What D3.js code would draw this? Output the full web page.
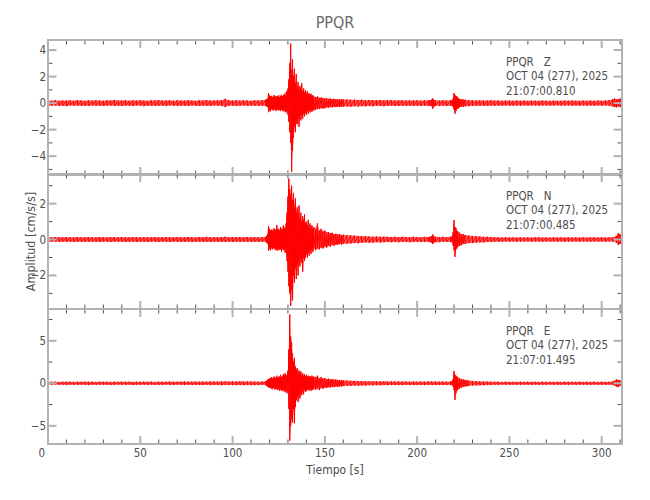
<!DOCTYPE html>
<html>
<head>
<meta charset="utf-8">
<script src="https://cdn.jsdelivr.net/npm/d3@7"></script>
<style>
	body { margin: 0; background: #fff; }
	svg text { font-family: "DejaVu Sans Condensed", "DejaVu Sans", sans-serif; }
</style>
</head>
<body>
<div id="chart"></div>
<script>
// Station PPQR, 3 components, acceleration envelopes
// each entry: [time s, upper, lower] in cm/s/s

const traceZ = [
	[0,0.2,-0.22],[2,0.18,-0.2],[4,0.22,-0.18],[6,0.17,-0.21],[8,0.2,-0.19],[10,0.19,-0.23],[12,0.21,-0.18],[14,0.18,-0.2],
	[16,0.23,-0.19],[18,0.2,-0.21],[20,0.17,-0.2],[22,0.21,-0.22],[24,0.19,-0.18],[26,0.22,-0.2],[28,0.2,-0.19],[30,0.18,-0.22],
	[32,0.21,-0.2],[34,0.2,-0.18],[36,0.24,-0.21],[38,0.19,-0.2],[40,0.2,-0.22],[42,0.22,-0.19],[44,0.18,-0.2],[46,0.21,-0.21],
	[48,0.19,-0.18],[50,0.22,-0.2],[52,0.2,-0.23],[54,0.18,-0.19],[56,0.21,-0.2],[58,0.2,-0.21],[60,0.23,-0.19],[62,0.19,-0.2],
	[64,0.2,-0.22],[66,0.22,-0.18],[68,0.18,-0.2],[70,0.21,-0.21],[72,0.2,-0.19],[74,0.19,-0.2],[76,0.22,-0.22],[78,0.2,-0.18],
	[80,0.18,-0.2],[82,0.21,-0.21],[84,0.2,-0.19],[86,0.23,-0.2],[88,0.19,-0.22],[90,0.2,-0.18],[92,0.22,-0.2],[94,0.21,-0.21],
	[96,0.32,-0.3],[98,0.22,-0.2],[100,0.2,-0.19],[102,0.21,-0.22],[104,0.19,-0.2],[106,0.22,-0.18],[108,0.2,-0.21],[110,0.18,-0.2],
	[112,0.21,-0.19],[114,0.2,-0.22],[116,0.22,-0.2],
	[118,0.25,-0.22],[118.5,0.3,-0.25],[119,0.35,-0.3],[119.5,0.76,-0.68],[120,0.6,-0.55],[120.5,0.5,-0.62],[121,0.55,-0.45],
	[121.5,0.45,-0.5],[122,0.5,-0.55],[122.5,0.6,-0.4],[123,0.42,-0.5],[123.5,0.55,-0.6],[124,0.48,-0.45],[124.5,0.5,-0.52],
	[125,0.6,-0.55],[125.5,0.45,-0.5],[126,0.55,-0.6],[126.5,0.62,-0.48],[127,0.5,-0.55],[127.5,0.58,-0.62],[128,0.7,-0.5],
	[128.5,0.55,-0.65],[129,0.8,-0.7],[129.5,0.9,-0.6],[130,1.1,-0.9],[130.5,1.8,-1.4],[131,3.0,-2.2],[131.5,4.5,-3.0],
	[132,2.5,-5.2],[132.5,3.3,-3.6],[133,2.0,-2.6],[133.5,2.6,-1.8],[134,1.5,-2.2],[134.5,2.2,-1.5],[135,1.2,-1.6],
	[135.5,1.6,-1.2],[136,1.0,-1.8],[136.5,1.3,-1.0],[137,1.1,-1.3],[137.5,1.5,-0.9],[138,0.9,-1.2],[138.5,1.1,-0.8],
	[139,0.8,-1.0],[139.5,1.0,-0.7],[140,0.7,-0.9],[140.5,0.9,-0.6],[141,0.65,-0.8],[141.5,0.75,-0.55],[142,0.6,-0.7],
	[142.5,0.7,-0.5],[143,0.55,-0.65],[143.5,0.6,-0.5],[144,0.5,-0.55],[145,0.45,-0.5],[146,0.5,-0.42],[147,0.4,-0.45],
	[148,0.42,-0.38],[149,0.38,-0.4],[150,0.35,-0.38],[151,0.38,-0.32],[152,0.32,-0.35],[153,0.35,-0.3],[154,0.3,-0.32],
	[155,0.32,-0.28],[156,0.28,-0.3],[157,0.3,-0.27],[158,0.27,-0.3],[159,0.3,-0.26],[160,0.28,-0.28],
	[162,0.27,-0.25],[164,0.25,-0.27],[166,0.26,-0.24],[168,0.24,-0.25],[170,0.25,-0.23],[172,0.22,-0.24],[174,0.24,-0.22],
	[176,0.23,-0.24],[178,0.22,-0.2],[180,0.24,-0.22],[182,0.21,-0.23],[184,0.22,-0.21],[186,0.23,-0.2],[188,0.2,-0.22],
	[190,0.22,-0.21],[192,0.21,-0.2],[194,0.2,-0.22],[196,0.22,-0.19],[198,0.2,-0.21],[200,0.21,-0.2],[202,0.19,-0.21],
	[204,0.21,-0.2],[206,0.2,-0.22],[207,0.22,-0.2],[208,0.28,-0.25],[208.5,0.35,-0.42],[209,0.25,-0.28],[210,0.21,-0.2],
	[212,0.2,-0.21],[214,0.22,-0.2],[216,0.2,-0.21],[218,0.21,-0.2],[219,0.22,-0.22],[219.5,0.35,-0.3],[220,0.76,-0.5],
	[220.5,0.6,-0.8],[221,0.55,-0.6],[221.5,0.5,-0.45],[222,0.42,-0.4],[222.5,0.35,-0.38],[223,0.32,-0.3],[224,0.3,-0.28],
	[225,0.27,-0.28],[226,0.25,-0.24],[228,0.22,-0.23],[230,0.21,-0.2],[232,0.2,-0.21],[234,0.21,-0.19],[236,0.19,-0.2],
	[238,0.2,-0.21],[240,0.21,-0.19],[242,0.19,-0.2],[244,0.2,-0.2],[246,0.18,-0.19],[248,0.2,-0.18],[250,0.19,-0.2],
	[252,0.18,-0.19],[254,0.2,-0.18],[256,0.18,-0.2],[258,0.19,-0.18],[260,0.17,-0.19],[262,0.19,-0.17],[264,0.18,-0.18],
	[266,0.17,-0.19],[268,0.19,-0.17],[270,0.18,-0.18],[272,0.17,-0.19],[274,0.19,-0.18],[276,0.18,-0.17],[278,0.17,-0.19],
	[280,0.19,-0.18],[282,0.18,-0.17],[284,0.2,-0.19],[286,0.18,-0.18],[288,0.17,-0.19],[290,0.19,-0.17],[292,0.18,-0.19],
	[294,0.2,-0.18],[296,0.18,-0.2],[298,0.19,-0.18],[300,0.18,-0.19],[302,0.2,-0.18],[304,0.22,-0.2],[306,0.3,-0.25],
	[307,0.35,-0.3],[308,0.28,-0.32],[309,0.3,-0.25],[310,0.35,-0.3],[311,0.3,-0.28]
];

const traceN = [
	[0,0.13,-0.14],[2,0.12,-0.13],[4,0.14,-0.12],[6,0.13,-0.14],[8,0.12,-0.13],[10,0.14,-0.13],[12,0.13,-0.12],[14,0.12,-0.14],
	[16,0.14,-0.13],[18,0.13,-0.12],[20,0.12,-0.14],[22,0.14,-0.13],[24,0.13,-0.12],[26,0.12,-0.13],[28,0.14,-0.14],[30,0.13,-0.12],
	[32,0.12,-0.13],[34,0.14,-0.14],[36,0.13,-0.12],[38,0.12,-0.13],[40,0.14,-0.13],[42,0.13,-0.14],[44,0.12,-0.12],[46,0.14,-0.13],
	[48,0.13,-0.14],[50,0.12,-0.12],[52,0.14,-0.13],[54,0.13,-0.14],[56,0.12,-0.12],[58,0.14,-0.13],[60,0.13,-0.14],[62,0.12,-0.12],
	[64,0.14,-0.13],[66,0.13,-0.14],[68,0.12,-0.12],[70,0.14,-0.13],[72,0.13,-0.14],[74,0.12,-0.13],[76,0.14,-0.12],[78,0.13,-0.14],
	[80,0.12,-0.13],[82,0.14,-0.12],[84,0.13,-0.14],[86,0.15,-0.13],[88,0.13,-0.14],[90,0.14,-0.12],[92,0.13,-0.14],[94,0.14,-0.13],
	[96,0.15,-0.14],[98,0.13,-0.13],[100,0.14,-0.14],[102,0.13,-0.12],[104,0.14,-0.14],[106,0.13,-0.13],[108,0.14,-0.12],[110,0.13,-0.14],
	[112,0.14,-0.13],[114,0.13,-0.14],[116,0.14,-0.13],
	[118,0.15,-0.14],[118.5,0.2,-0.18],[119,0.3,-0.25],[119.5,0.76,-0.63],[120,0.6,-0.5],[120.5,0.5,-0.6],[121,0.55,-0.45],
	[121.5,0.48,-0.55],[122,0.55,-0.5],[122.5,0.62,-0.45],[123,0.5,-0.55],[123.5,0.58,-0.6],[124,0.8,-0.5],[124.5,0.55,-0.62],
	[125,0.6,-0.5],[125.5,0.5,-0.58],[126,0.7,-0.55],[126.5,0.6,-0.7],[127,0.55,-0.5],[127.5,0.8,-0.6],[128,0.6,-0.55],
	[128.5,0.7,-0.75],[129,0.9,-0.7],[129.5,1.5,-1.2],[130,2.4,-1.8],[130.5,3.4,-2.6],[131,2.8,-3.0],[131.5,2.5,-3.7],
	[132,3.0,-2.8],[132.5,2.2,-3.4],[133,2.6,-2.0],[133.5,1.8,-2.4],[134,2.3,-1.6],[134.5,1.5,-2.2],[135,1.8,-1.4],
	[135.5,1.4,-2.0],[136,1.9,-1.2],[136.5,1.2,-1.5],[137,1.5,-1.1],[137.5,1.0,-1.3],[138,1.3,-1.8],[138.5,1.1,-1.0],
	[139,1.4,-1.2],[139.5,0.9,-1.0],[140,1.0,-0.8],[140.5,0.8,-1.0],[141,1.1,-0.7],[141.5,0.7,-0.9],[142,0.9,-0.6],
	[142.5,0.6,-0.8],[143,0.8,-0.55],[143.5,0.6,-0.7],[144,0.7,-0.5],[145,0.6,-0.6],[146,0.9,-0.5],[147,0.5,-0.55],
	[148,0.6,-0.45],[149,0.45,-0.5],[150,0.5,-0.4],[151,0.4,-0.45],[152,0.42,-0.35],[153,0.35,-0.4],[154,0.38,-0.3],
	[155,0.3,-0.35],[156,0.32,-0.28],[157,0.28,-0.3],[158,0.3,-0.25],[159,0.25,-0.28],[160,0.27,-0.24],
	[162,0.24,-0.23],[164,0.23,-0.22],[166,0.22,-0.2],[168,0.2,-0.21],[170,0.19,-0.18],[172,0.18,-0.17],[174,0.17,-0.18],
	[176,0.16,-0.17],[178,0.17,-0.15],[180,0.15,-0.16],[182,0.16,-0.15],[184,0.15,-0.14],[186,0.14,-0.15],[188,0.15,-0.14],
	[190,0.14,-0.15],[192,0.15,-0.13],[194,0.14,-0.14],[196,0.13,-0.15],[198,0.15,-0.14],[200,0.14,-0.13],[202,0.13,-0.14],
	[204,0.15,-0.14],[206,0.14,-0.13],[207,0.16,-0.15],[208,0.2,-0.18],[208.5,0.28,-0.25],[209,0.2,-0.18],[210,0.15,-0.14],
	[212,0.14,-0.15],[214,0.15,-0.13],[216,0.14,-0.14],[218,0.15,-0.14],[219,0.18,-0.16],[219.5,0.4,-0.35],[220,1.08,-0.6],
	[220.5,0.7,-0.97],[221,0.65,-0.55],[221.5,0.5,-0.5],[222,0.45,-0.4],[223,0.38,-0.35],[224,0.3,-0.32],[225,0.3,-0.25],
	[226,0.25,-0.25],[228,0.22,-0.2],[230,0.2,-0.2],[232,0.18,-0.17],[234,0.17,-0.16],[236,0.15,-0.16],[238,0.15,-0.14],
	[240,0.14,-0.14],[242,0.13,-0.12],[244,0.12,-0.13],[246,0.11,-0.12],[248,0.12,-0.11],[250,0.11,-0.12],[252,0.12,-0.11],
	[254,0.11,-0.12],[256,0.12,-0.11],[258,0.11,-0.12],[260,0.12,-0.11],[262,0.11,-0.12],[264,0.12,-0.11],[266,0.13,-0.12],
	[268,0.11,-0.12],[270,0.12,-0.11],[272,0.11,-0.12],[274,0.12,-0.11],[276,0.11,-0.12],[278,0.12,-0.11],[280,0.11,-0.12],
	[282,0.12,-0.11],[284,0.11,-0.12],[286,0.12,-0.11],[288,0.11,-0.12],[290,0.12,-0.11],[292,0.11,-0.12],[294,0.13,-0.12],
	[296,0.12,-0.11],[298,0.11,-0.12],[300,0.12,-0.11],[302,0.11,-0.12],[304,0.12,-0.11],[306,0.13,-0.12],[308,0.2,-0.18],
	[309,0.35,-0.3],[310,0.3,-0.25],[311,0.25,-0.22]
];

const traceE = [
	[0,0.18,-0.17],[2,0.17,-0.18],[4,0.19,-0.16],[6,0.16,-0.18],[8,0.18,-0.17],[10,0.17,-0.19],[12,0.19,-0.17],[14,0.16,-0.18],
	[16,0.18,-0.16],[18,0.17,-0.18],[20,0.19,-0.17],[22,0.17,-0.19],[24,0.18,-0.16],[26,0.16,-0.18],[28,0.19,-0.17],[30,0.17,-0.18],
	[32,0.18,-0.17],[34,0.16,-0.19],[36,0.19,-0.17],[38,0.17,-0.18],[40,0.18,-0.16],[42,0.17,-0.18],[44,0.19,-0.17],[46,0.16,-0.19],
	[48,0.18,-0.17],[50,0.17,-0.18],[52,0.19,-0.16],[54,0.17,-0.18],[56,0.18,-0.17],[58,0.16,-0.19],[60,0.19,-0.17],[62,0.17,-0.18],
	[64,0.18,-0.16],[66,0.2,-0.18],[68,0.17,-0.19],[70,0.19,-0.17],[72,0.18,-0.18],[74,0.2,-0.19],[76,0.18,-0.17],[78,0.19,-0.2],
	[80,0.2,-0.18],[82,0.18,-0.19],[84,0.21,-0.2],[86,0.19,-0.18],[88,0.2,-0.21],[90,0.22,-0.19],[92,0.2,-0.2],[94,0.21,-0.22],
	[96,0.23,-0.2],[98,0.2,-0.21],[100,0.22,-0.2],[102,0.21,-0.22],[104,0.23,-0.21],[106,0.2,-0.22],[108,0.22,-0.2],[110,0.21,-0.22],
	[112,0.2,-0.21],[114,0.19,-0.2],[116,0.2,-0.19],
	[118,0.25,-0.22],[118.5,0.3,-0.28],[119,0.45,-0.4],[119.5,0.5,-0.45],[120,0.55,-0.5],[120.5,0.6,-0.55],[121,0.7,-0.6],
	[121.5,0.55,-0.7],[122,0.65,-0.5],[122.5,0.8,-0.6],[123,0.6,-0.75],[123.5,0.7,-0.55],[124,0.9,-0.7],[124.5,0.65,-0.8],
	[125,0.75,-0.6],[125.5,0.8,-0.9],[126,1.0,-0.7],[126.5,0.7,-0.85],[127,0.85,-0.9],[127.5,1.1,-0.75],[128,0.9,-1.0],
	[128.5,1.2,-0.8],[129,0.9,-1.1],[129.5,1.0,-0.9],[130,1.5,-1.2],[130.5,4.0,-3.0],[131,8.1,-6.75],[131.5,5.5,-5.0],
	[132,4.8,-4.2],[132.5,3.5,-4.6],[133,2.5,-3.0],[133.5,3.0,-4.7],[134,2.0,-2.8],[134.5,1.6,-2.0],[135,1.8,-1.6],
	[135.5,1.3,-2.2],[136,1.5,-1.4],[136.5,1.2,-1.8],[137,1.4,-1.2],[137.5,1.0,-1.4],[138,1.2,-0.9],[138.5,0.9,-1.3],
	[139,1.1,-0.8],[139.5,0.8,-1.0],[140,1.0,-0.9],[140.5,0.8,-0.8],[141,0.9,-0.7],[141.5,0.7,-0.85],[142,0.85,-0.65],
	[142.5,0.65,-0.9],[143,0.9,-0.7],[143.5,0.7,-0.8],[144,0.8,-0.6],[145,0.7,-0.75],[146,0.9,-0.6],[147,0.6,-0.8],
	[148,0.75,-0.55],[149,0.55,-0.65],[150,0.6,-0.5],[151,0.5,-0.55],[152,0.55,-0.45],[153,0.45,-0.5],[154,0.5,-0.42],
	[155,0.42,-0.45],[156,0.45,-0.38],[157,0.38,-0.42],[158,0.4,-0.35],[159,0.35,-0.38],[160,0.36,-0.32],
	[162,0.33,-0.3],[164,0.3,-0.31],[166,0.29,-0.27],[168,0.27,-0.28],[170,0.26,-0.25],[172,0.25,-0.26],[174,0.24,-0.23],
	[176,0.23,-0.24],[178,0.24,-0.22],[180,0.22,-0.23],[182,0.23,-0.21],[184,0.21,-0.22],[186,0.22,-0.2],[188,0.2,-0.21],
	[190,0.21,-0.2],[192,0.2,-0.21],[194,0.21,-0.19],[196,0.19,-0.2],[198,0.2,-0.19],[200,0.19,-0.2],[202,0.2,-0.19],
	[204,0.19,-0.2],[206,0.2,-0.19],[208,0.22,-0.21],[210,0.2,-0.19],[212,0.19,-0.2],[214,0.2,-0.19],[216,0.19,-0.2],
	[218,0.21,-0.2],[219,0.25,-0.22],[219.5,0.5,-0.4],[220,1.45,-0.8],[220.5,1.0,-1.96],[221,0.9,-1.2],[221.5,0.8,-0.9],
	[222,0.7,-0.75],[223,0.6,-0.6],[224,0.5,-0.5],[225,0.45,-0.42],[226,0.4,-0.38],[227,0.35,-0.35],[228,0.32,-0.3],
	[230,0.28,-0.27],[232,0.25,-0.25],[234,0.23,-0.22],[236,0.21,-0.22],[238,0.2,-0.2],[240,0.19,-0.2],[242,0.18,-0.17],
	[244,0.17,-0.18],[246,0.16,-0.17],[248,0.17,-0.16],[250,0.16,-0.17],[252,0.17,-0.16],[254,0.16,-0.17],[256,0.17,-0.16],
	[258,0.16,-0.17],[260,0.17,-0.16],[262,0.16,-0.17],[264,0.17,-0.16],[266,0.16,-0.17],[268,0.17,-0.16],[270,0.16,-0.17],
	[272,0.17,-0.16],[274,0.16,-0.17],[276,0.17,-0.16],[278,0.16,-0.17],[280,0.17,-0.16],[282,0.16,-0.17],[284,0.17,-0.16],
	[286,0.16,-0.17],[288,0.17,-0.16],[290,0.16,-0.17],[292,0.17,-0.16],[294,0.16,-0.17],[296,0.17,-0.16],[298,0.16,-0.17],
	[300,0.17,-0.16],[302,0.16,-0.17],[304,0.18,-0.17],[306,0.2,-0.19],[307,0.3,-0.28],[308,0.45,-0.4],[309,0.4,-0.45],
	[310,0.35,-0.3],[311,0.3,-0.28]
];

const components = ['Z', 'N', 'E'];
const stamps = ['21:07:00.810', '21:07:00.485', '21:07:01.495'];
const dateLabel = 'OCT 04 (277), 2025';
const station = 'PPQR';
const yDomains = [[-5.42, 4.76], [-3.87, 3.65], [-7.14, 8.74]];
const yTickLabels = [[-4, -2, 0, 2, 4], [-2, 0, 2], [-5, 0, 5]];
const yMinorStep = [1, 1, 2.5];
const xDomain = [0, 311];
const xTickLabels = [0, 50, 100, 150, 200, 250, 300];

const width = 650;
const height = 500;
const left = 48, right = 622;
const panelTops = [40, 174, 309];
const panelH = 135;

const axisGray = '#b2b2b2';
const tickDark = '#555';
const textGray = '#4d4d4d';

const svg = d3.select('#chart').append('svg')
	.attr('width', width)
	.attr('height', height);

const x = d3.scaleLinear().domain(xDomain).range([left, right]);

const traces = [traceZ, traceN, traceE];

traces.forEach((trace, p) => {
	const top = panelTops[p];
	const bottom = top + panelH;
	const y = d3.scaleLinear().domain(yDomains[p]).range([bottom, top]);

	const g = svg.append('g').attr('class', 'panel');

	g.append('clipPath')
		.attr('id', 'clip' + p)
		.append('rect')
		.attr('x', left).attr('y', top)
		.attr('width', right - left).attr('height', panelH);

	// envelope fill + zigzag trace
	const area = d3.area()
		.x(d => x(d[0]))
		.y0(d => y(d[2]))
		.y1(d => y(d[1]));

	g.append('path')
		.attr('clip-path', `url(#clip${p})`)
		.attr('d', area(trace))
		.attr('fill', '#ff0000')
		.attr('fill-opacity', 0.6);

	const zig = [];
	trace.forEach(d => {
		zig.push([d[0], d[1]]);
		zig.push([d[0], d[2]]);
	});
	g.append('path')
		.attr('clip-path', `url(#clip${p})`)
		.attr('d', d3.line().x(d => x(d[0])).y(d => y(d[1]))(zig))
		.attr('fill', 'none')
		.attr('stroke', '#ff0000')
		.attr('stroke-width', 1);

	// x ticks, top and bottom, inward
	d3.range(0, xDomain[1] + 0.1, 10).forEach(t => {
		const major = t % 50 === 0;
		const len = major ? 8 : 4.5;
		[[top, 1], [bottom, -1]].forEach(([y0, dir]) => {
			g.append('line')
				.attr('x1', x(t)).attr('x2', x(t))
				.attr('y1', y0).attr('y2', y0 + dir * len)
				.attr('stroke', major ? axisGray : tickDark)
				.attr('stroke-width', major ? 2 : 1);
		});
	});

	// y ticks, left and right, inward
	const [ymin, ymax] = yDomains[p];
	const step = yMinorStep[p];
	d3.range(Math.ceil(ymin / step) * step, ymax, step).forEach(v => {
		const major = yTickLabels[p].includes(+v.toFixed(3));
		const len = major ? 8.5 : 4.5;
		[[left, 1], [right, -1]].forEach(([x0, dir]) => {
			g.append('line')
				.attr('x1', x0).attr('x2', x0 + dir * len)
				.attr('y1', y(v)).attr('y2', y(v))
				.attr('stroke', major ? axisGray : tickDark)
				.attr('stroke-width', major ? 2 : 1);
		});
	});

	g.selectAll('.ylab')
		.data(yTickLabels[p])
		.enter()
		.append('text')
		.attr('x', left - 2)
		.attr('y', d => y(d))
		.attr('dy', '0.35em')
		.attr('text-anchor', 'end')
		.style('font-size', '11.5px')
		.style('fill', textGray)
		.text(d => d < 0 ? '\u2212' + Math.abs(d) : d);

	// frame
	g.append('rect')
		.attr('x', left).attr('y', top)
		.attr('width', right - left).attr('height', panelH)
		.attr('fill', 'none')
		.attr('stroke', axisGray)
		.attr('stroke-width', 2);

	// channel stamp
	const info = g.append('text')
		.attr('x', 506)
		.attr('y', top + 25.5)
		.style('font-size', '11.5px')
		.style('white-space', 'pre')
		.style('fill', textGray);
	[`${station}   ${components[p]}`, dateLabel, stamps[p]].forEach((s, i) => {
		info.append('tspan')
			.attr('x', 506)
			.attr('dy', i === 0 ? 0 : 14.5)
			.text(s);
	});
});

// x tick labels under the last panel
const lastBottom = panelTops[2] + panelH;
svg.selectAll('.xlab')
	.data(xTickLabels)
	.enter()
	.append('text')
	.attr('x', d => d === 0 ? x(d) - 3 : x(d))
	.attr('y', lastBottom + 13)
	.attr('text-anchor', d => d === 0 ? 'end' : 'middle')
	.style('font-size', '11.5px')
	.style('fill', textGray)
	.text(d => d);

svg.append('text')
	.attr('x', (left + right) / 2)
	.attr('y', 474)
	.attr('text-anchor', 'middle')
	.style('font-size', '12px')
	.style('fill', textGray)
	.text('Tiempo [s]');

svg.append('text')
	.attr('transform', `translate(35, ${panelTops[1] + panelH / 2}) rotate(-90)`)
	.attr('text-anchor', 'middle')
	.style('font-size', '12.5px')
	.style('fill', textGray)
	.text('Amplitud [cm/s/s]');

// title
svg.append('text')
	.attr('x', (left + right) / 2)
	.attr('y', 28)
	.attr('text-anchor', 'middle')
	.style('font-size', '16px')
	.style('fill', '#6a6a6a')
	.text(station);
</script>
</body>
</html>
